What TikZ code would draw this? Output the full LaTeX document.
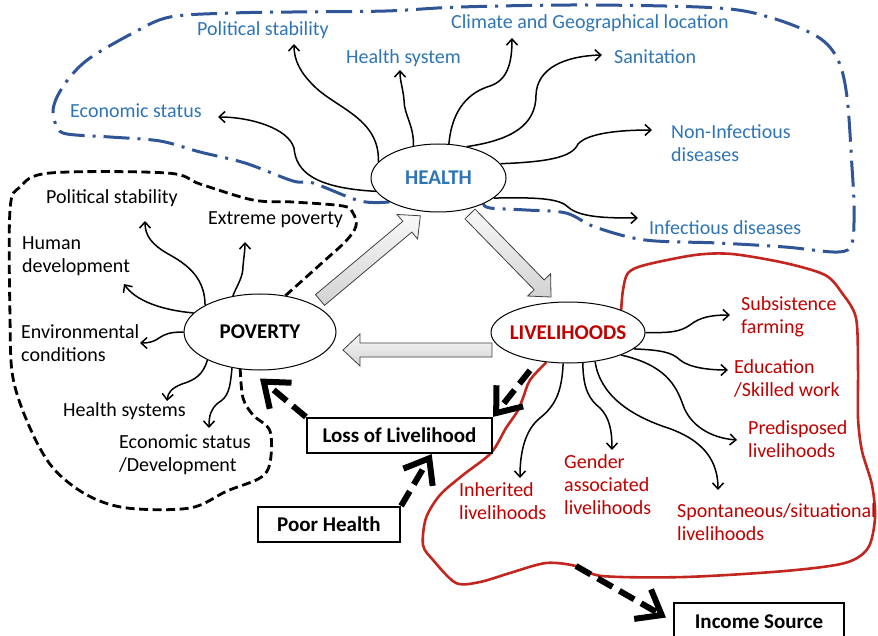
\documentclass[tikz,border=0pt]{standalone}
\usepackage{fontspec}
\setmainfont{Carlito}
\usetikzlibrary{arrows.meta, calc, shapes.geometric, backgrounds}
\definecolor{HealthBlue}{HTML}{2E75B6}
\definecolor{LoopBlue}{HTML}{2F5597}
\definecolor{LivRed}{HTML}{C00000}
\definecolor{LoopRed}{HTML}{C3261F}

\tikzset{
  pics/blockarrow/.style={code={
    \draw[top color=gray!5, bottom color=gray!35, draw=black!75, line width=0.8pt]
      (0,-7) -- (#1-17,-7) -- (#1-17,-16) -- (#1,0) -- (#1-17,16) -- (#1-17,7) -- (0,7) -- cycle;
  }}
}

\begin{document}
\begin{tikzpicture}[
    x=1pt, y=-1pt,
    every node/.style={font=\fontsize{20}{23}\selectfont},
    hub/.style={ellipse, draw, fill=white, line width=1pt, inner sep=0pt,
                font=\fontsize{21}{25}\selectfont\bfseries},
    factor/.style={anchor=base west, inner sep=0pt, align=left},
    event/.style={draw, fill=white, line width=2.2pt, inner sep=0pt,
                  font=\fontsize{21}{25}\selectfont\bfseries},
    branch/.style={-{Straight Barb[length=6pt,width=11pt]}, line width=1.5pt},
    impact/.style={-{Straight Barb[length=22pt,width=34pt]}, line width=6pt,
                   dash pattern=on 17pt off 8pt}
]
  \useasboundingbox (0,0) rectangle (878,636);

  % Hubs
  \node[hub, text=HealthBlue, minimum width=135pt, minimum height=68pt] (hea) at (438.5,178) {\makebox[0pt]{HEALTH}};
  \node[hub, minimum width=152pt, minimum height=76pt] (pov) at (260,332) {\makebox[0pt]{POVERTY}};
  \node[hub, text=LivRed, minimum width=154pt, minimum height=61pt] (liv) at (568,332.5) {\makebox[0pt]{LIVELIHOODS}};

  % Health factors (multi-line texts sit on their last baseline)
  \node[factor, text=HealthBlue] (bps) at (197,36) {Political stability};
  \node[factor, text=HealthBlue] (bhs) at (346,64) {Health system};
  \node[factor, text=HealthBlue] (bcl) at (451,29) {Climate and Geographical location};
  \node[factor, text=HealthBlue] (bsa) at (614,64) {Sanitation};
  \node[factor, text=HealthBlue] (bni) at (671,162) {Non-Infectious\\diseases};
  \node[factor, text=HealthBlue] (bin) at (649,235) {Infectious diseases};
  \node[factor, text=HealthBlue] (bes) at (70,118) {Economic status};

  % Poverty factors
  \node[factor] (kps) at (46,204) {Political stability};
  \node[factor] (kep) at (208,225) {Extreme poverty};
  \node[factor] (khd) at (22,273) {Human\\development};
  \node[factor] (ken) at (21,361) {Environmental\\conditions};
  \node[factor] (khs) at (63,416) {Health systems};
  \node[factor] (kes) at (119,471) {Economic status\\/Development};

  % Livelihood types
  \node[factor, text=LivRed] (rsf) at (741,334) {Subsistence\\farming};
  \node[factor, text=LivRed] (rsw) at (734,396) {Education\\/Skilled work};
  \node[factor, text=LivRed] (rpd) at (748,457) {Predisposed\\livelihoods};
  \node[factor, text=LivRed] (rga) at (564,514) {Gender\\associated\\livelihoods};
  \node[factor, text=LivRed] (rih) at (459,519) {Inherited\\livelihoods};
  \node[factor, text=LivRed] (rsp) at (677,540) {Spontaneous/situational\\livelihoods};

  % Events
  \node[event, minimum width=185pt, minimum height=35pt] (loss) at (399.5,435.5) {Loss of Livelihood};
  \node[event, minimum width=142pt, minimum height=35pt] (ph) at (329,524.5) {Poor Health};
  \node[event, minimum width=170pt, minimum height=37pt] (inc) at (759,621.5) {Income Source};

  % Boundaries
  \begin{scope}[on background layer]
    \draw[LoopBlue, line width=3pt, dash pattern=on 26pt off 8pt on 3pt off 8pt]
      plot[smooth, tension=0.55] coordinates {(hea.206) (360,201) (313,183) (293,181) (245,163)
        (200,152) (160,141) (110,137) (67,134) (57,127) (53,112) (57,97) (70,77) (90,58)
        (133,33) (170,17) (233,13) (293,12) (386,11) (460,7) (586,5) (718,8) (772,18)
        (818,37) (838,60) (847,97) (852,167) (854,207) (852,243) (838,252) (785,247)
        (718,243) (645,240) (595,227) (566,213) (526,210) (490,208) (hea.-30)};
    \draw[line width=2.8pt, dash pattern=on 9pt off 4.5pt]
      plot[smooth, tension=0.55] coordinates {(pov.55) (323,262) (346,241) (356,226) (353,213)
        (343,206) (293,202) (253,200) (200,184) (167,173) (50,173) (20,187) (10,210)
        (10,317) (13,378) (30,428) (53,468) (87,495) (127,508) (190,508) (227,491)
        (260,478) (270,463) (270,431) (253,415) (243,398) (pov.242)};
    \draw[LoopRed, line width=2.6pt]
      plot[smooth, tension=0.5] coordinates {(liv.-126) (530,380) (523,398) (517,412)
        (506,428) (491,453) (463,475) (440,495) (426,518) (423,545) (433,560) (456,583)
        (480,582) (510,573) (546,563) (576,566) (602,576) (685,577) (785,571) (845,563)
        (868,548) (875,518) (872,485) (862,451) (858,418) (858,368) (856,318) (842,293)
        (825,275) (785,263) (732,254) (695,255) (645,265) (628,273) (623,290) (liv.23)};
  \end{scope}
  \coordinate (redgap) at (576,566);

  % Cycle arrows
  \pic[rotate=40] at ($(pov)+(60,-32)$) {blockarrow=131};
  \pic[rotate=-45.7] at ($(hea)+(31.5,36)$) {blockarrow=116};
  \pic[rotate=180] at ($(liv)+(-76,17.5)$) {blockarrow=149};

  % Health branches
  \draw[branch] (hea.165) .. controls (380,118) and (335,108) .. (313,85)
    .. controls (300,72) and (294,60) .. ($(bps.base west)+(97,8)$);
  \draw[branch] (hea.128) .. controls (414,125) and (404,115) .. (404,100)
    .. controls (403,88) and (400,82) .. ($(bhs.base west)+(54,6)$);
  \draw[branch] (hea.73) .. controls (452,108) and (470,92) .. (490,86)
    .. controls (508,80) and (512,62) .. ($(bcl.base west)+(61,9)$);
  \draw[branch] (hea.48) .. controls (512,140) and (536,125) .. (536,95)
    .. controls (537,68) and (565,56) .. ($(bsa.base west)+(-12,-9)$);
  \draw[branch] (hea.13) .. controls (545,162) and (572,158) .. (578,144)
    .. controls (588,133) and (620,130) .. ($(bni.base west)+(-19,-32)$);
  \draw[branch] (hea.-20) .. controls (540,197) and (560,199) .. (568,207)
    .. controls (580,218) and (610,218) .. ($(bin.base west)+(-11,-17)$);
  \draw[branch] (hea.192) .. controls (315,188) and (296,172) .. (294,148)
    .. controls (288,128) and (250,117) .. ($(bes.base west)+(148,-1)$);

  % Poverty branches
  \draw[branch] (pov.154) .. controls (205,280) and (190,266) .. (170,255)
    .. controls (152,245) and (145,236) .. ($(kps.base west)+(99,17)$);
  \draw[branch] (pov.127.5) .. controls (237,285) and (243,278) .. (243,266)
    .. controls (244,256) and (245,250) .. ($(kep.base west)+(37,17)$);
  \draw[branch] (pov.164) .. controls (160,310) and (135,300) .. ($(khd.base west)+(102,11)$);
  \draw[branch] (pov.180) .. controls (170,332) and (165,334) .. (159,338)
    .. controls (154,342) and (148,343) .. ($(ken.base west)+(119,-18)$);
  \draw[branch] (pov.208) .. controls (203,375) and (195,380) .. (182,384)
    .. controls (172,388) and (168,392) .. ($(khs.base west)+(104,-15)$);
  \draw[branch] (pov.232) .. controls (230,390) and (228,397) .. (218,403)
    .. controls (211,409) and (209,415) .. ($(kes.base west)+(90,-43)$);

  % Livelihood branches
  \draw[branch] (liv.0) .. controls (670,333) and (680,332) .. (690,325)
    .. controls (700,317) and (712,315) .. ($(rsf.base west)+(-11,-19)$);
  \draw[branch] (liv.-14) .. controls (660,350) and (672,352) .. (680,360)
    .. controls (690,368) and (710,370) .. ($(rsw.base west)+(-6,-26)$);
  \draw[branch] (liv.-23) .. controls (665,365) and (676,385) .. (683,405)
    .. controls (690,425) and (710,438) .. ($(rpd.base west)+(-11,-17)$);
  \draw[branch] (liv.-64.5) .. controls (583,390) and (590,400) .. (600,408)
    .. controls (610,418) and (612,432) .. ($(rga.base west)+(48,-64)$);
  \draw[branch] (liv.-99) .. controls (562,392) and (555,406) .. (540,418)
    .. controls (525,430) and (520,452) .. ($(rih.base west)+(61,-41)$);
  \draw[branch] (liv.-47) .. controls (600,395) and (630,415) .. (665,427)
    .. controls (705,440) and (718,462) .. ($(rsp.base west)+(41,-50)$);

  % Impact arrows
  \draw[impact] (ph.north east) -- (loss.-30);
  \draw[impact] (loss.north west) -- ([yshift=-8pt]pov.south);
  \draw[impact, shorten <=12pt] (liv.-137) -- (loss.north east);
  \draw[impact, shorten >=8pt] (redgap) -- (inc.west);
\end{tikzpicture}
\end{document}
